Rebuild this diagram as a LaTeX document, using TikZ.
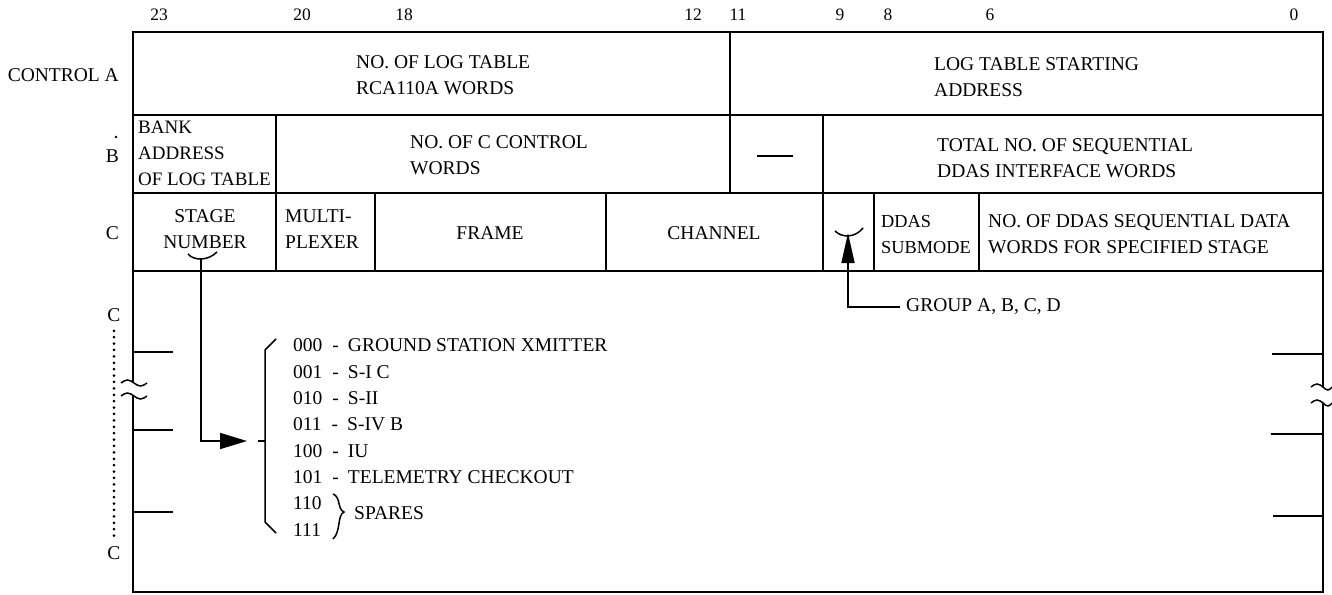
\documentclass[tikz,border=0pt]{standalone}
\usepackage{fontspec}
\setmainfont{Liberation Serif}
\usetikzlibrary{arrows.meta}
\begin{document}
\begin{tikzpicture}[x=1pt,y=-1pt,
  outer/.style={line width=1.8pt},
  cellline/.style={line width=1.5pt},
  txt/.style={inner sep=0pt, font=\fontsize{19.5}{26}\selectfont, align=left},
  ctxt/.style={inner sep=0pt, font=\fontsize{19.5}{26}\selectfont, align=center},
  bit/.style={inner sep=0pt, font=\fontsize{17.5}{20}\selectfont},
  conn/.style={line width=1.6pt},
  brk/.style={line width=1.5pt}]
\useasboundingbox (0,0) rectangle (1332,594);
\fill[white] (0,0) rectangle (1332,594);

% bit numbers
\node[bit] (b23) at (159,15) {23};
\node[bit] (b20) at (302,15) {20};
\node[bit] (b18) at (404,15) {18};
\node[bit] (b12) at (693,15) {12};
\node[bit] (b11) at (738,15) {11};
\node[bit] (b9)  at (840,15) {9};
\node[bit] (b8)  at (888,15) {8};
\node[bit] (b6)  at (990,15) {6};
\node[bit] (b0)  at (1294,15) {0};

% row labels
\node[txt, anchor=east] (rA) at (119,75) {CONTROL A};
\node[txt, anchor=east] (rB) at (119,156) {B};
\fill (116,137) circle (1.4);
\node[txt, anchor=east] (rC) at (119,233) {C};

% outer frame with breaks
\draw[outer] (133,383) -- (133,32) -- (1323,32) -- (1323,387);
\draw[outer] (133,396) -- (133,592) -- (1323,592) -- (1323,403);
% break marks
\draw[brk] (121,383) sin (127.5,380) cos (134,383) sin (140.5,386) cos (147,383);
\draw[brk] (121,396) sin (127.5,393) cos (134,396) sin (140.5,399) cos (147,396);
\draw[brk] (1311,387) sin (1317,384) cos (1323,387) sin (1328,390) cos (1332,387);
\draw[brk] (1311,403) sin (1317,400) cos (1323,403) sin (1328,406) cos (1332,403);

% row separators
\draw[cellline] (133,115) -- (1323,115);
\draw[cellline] (133,193) -- (1323,193);
\draw[cellline] (133,271) -- (1323,271);
% column separators
\draw[cellline] (730,32) -- (730,193);
\draw[cellline] (276,115) -- (276,271);
\draw[cellline] (823,115) -- (823,271);
\draw[cellline] (375,193) -- (375,271);
\draw[cellline] (606,193) -- (606,271);
\draw[cellline] (874,193) -- (874,271);
\draw[cellline] (979,193) -- (979,271);

% tick marks
\draw[cellline] (133,352) -- (173,352);
\draw[cellline] (133,430) -- (173,430);
\draw[cellline] (133,512) -- (173,512);
\draw[cellline] (1272,354) -- (1323,354);
\draw[cellline] (1271,434) -- (1323,434);
\draw[cellline] (1273,516) -- (1323,516);

% dotted C ... C
\node[txt] (cTop) at (114,315) {C};
\node[txt] (cBot) at (114,553) {C};
\draw[line width=3pt, line cap=round, dash pattern=on 0pt off 6.4pt,
      shorten <=9pt, shorten >=9pt] (cTop) -- (cBot);

% row A
\node[txt, anchor=west] (nlog) at (356,75.5) {NO. OF LOG TABLE\\RCA110A WORDS};
\node[txt, anchor=west] (start) at (934,77) {LOG TABLE STARTING\\ADDRESS};
% row B
\node[txt, anchor=west, font=\fontsize{19}{26}\selectfont] (bank) at (138,153.5) {BANK\\ADDRESS\\OF LOG TABLE};
\node[txt, anchor=west] (ncc) at (410,155.5) {NO. OF C CONTROL\\WORDS};
\draw[conn] (757,156) -- (793,156);
\node[txt, anchor=west] (total) at (937,158) {TOTAL NO. OF SEQUENTIAL\\DDAS INTERFACE WORDS};
% row C
\node[ctxt] (stage) at (205,229.5) {STAGE\\NUMBER};
\node[txt, anchor=west] (mux) at (285,229.5) {MULTI-\\PLEXER};
\node[txt] (frame) at (490,233) {FRAME};
\node[txt] (chan) at (714,233) {CHANNEL};
\node[txt, anchor=west, font=\fontsize{18.3}{26}\selectfont] (sub) at (881,234.5) {DDAS\\SUBMODE};
\node[txt, anchor=west] (ndd) at (988,234.5) {NO. OF DDAS SEQUENTIAL DATA\\WORDS FOR SPECIFIED STAGE};

% stage-number pointer
\draw[brk] (188,254) .. controls (194,261) and (208,261) .. (217,252);
\coordinate (stTip) at (201,259);
\coordinate (brTip) at (247,441);
\draw[conn, -{Triangle[length=27pt,width=16pt]}] (stTip) |- (brTip);

% list with big brace
\draw[brk] (276,339) -- (265,350) -- (265,522) -- (276,533);
\draw[brk] (258,441) -- (265,441);
\node[txt, anchor=west] (l0) at (293,345) {000\hspace{10pt}-\hspace{9pt}GROUND STATION XMITTER};
\node[txt, anchor=west] (l1) at (293,372) {001\hspace{10pt}-\hspace{9pt}S-I C};
\node[txt, anchor=west] (l2) at (293,398) {010\hspace{10pt}-\hspace{9pt}S-II};
\node[txt, anchor=west] (l3) at (293,424) {011\hspace{10pt}-\hspace{9pt}S-IV B};
\node[txt, anchor=west] (l4) at (293,451) {100\hspace{10pt}-\hspace{9pt}IU};
\node[txt, anchor=west] (l5) at (293,477) {101\hspace{10pt}-\hspace{9pt}TELEMETRY CHECKOUT};
\node[txt, anchor=west] (l6) at (293,503) {110};
\node[txt, anchor=west] (l7) at (293,530) {111};
\draw[brk] (333,494) .. controls (341,497) and (337,509) .. (344,512)
           .. controls (337,515) and (341,532) .. (333,539);
\node[txt, anchor=west] (spares) at (354,513) {SPARES};

% group pointer
\draw[brk] (835,231) .. controls (842,238) and (855,238) .. (863,228);
\coordinate (gTip) at (848,233);
\node[txt, anchor=west] (group) at (906,307) {GROUP A, B, C, D};
\draw[conn, shorten <=6pt, -{Triangle[length=30pt,width=13pt]}] (group.west) -| (gTip);
\end{tikzpicture}
\end{document}
